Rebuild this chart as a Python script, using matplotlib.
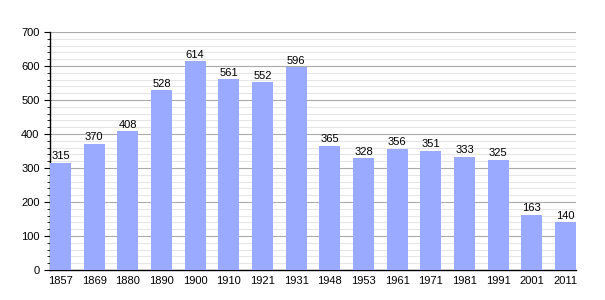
import matplotlib
matplotlib.use("Agg")
import matplotlib.pyplot as plt
from matplotlib.ticker import MultipleLocator

plt.rcParams["font.family"] = ["Liberation Sans", "DejaVu Sans"]

years = ["1857", "1869", "1880", "1890", "1900", "1910", "1921", "1931",
         "1948", "1953", "1961", "1971", "1981", "1991", "2001", "2011"]
population = [315, 370, 408, 528, 614, 561, 552, 596,
              365, 328, 356, 351, 333, 325, 163, 140]

fig = plt.figure(figsize=(6.05, 3.0), dpi=100)
ax = fig.add_axes([50 / 605, 30 / 300, 526 / 605, 238 / 300])

x = range(len(years))
width = 0.625
ax.bar(x, population, width=width, color="#99aaff", zorder=3)

for xi, v in zip(x, population):
    ax.text(xi, v + 5, str(v), ha="center", va="bottom", fontsize=8, zorder=4)

ax.set_xlim(-width / 2, len(years) - 1 + width / 2)
ax.set_ylim(0, 700)
ax.set_xticks(list(x))
ax.set_xticklabels(years, fontsize=8)
ax.tick_params(axis="x", length=0, pad=4)
ax.yaxis.set_major_locator(MultipleLocator(100))
ax.yaxis.set_minor_locator(MultipleLocator(20))
ax.tick_params(axis="y", which="major", length=4, labelsize=8, direction="out")
ax.tick_params(axis="y", which="minor", length=2, direction="out")

ax.grid(axis="y", which="major", color="#aaaaaa", linewidth=0.8, zorder=0)
ax.grid(axis="y", which="minor", color="#e6e6e6", linewidth=0.8, zorder=0)

for side in ["top", "right"]:
    ax.spines[side].set_visible(False)
ax.spines["left"].set_linewidth(1.0)
ax.spines["bottom"].set_linewidth(1.0)

fig.savefig("out.png", dpi=100)
